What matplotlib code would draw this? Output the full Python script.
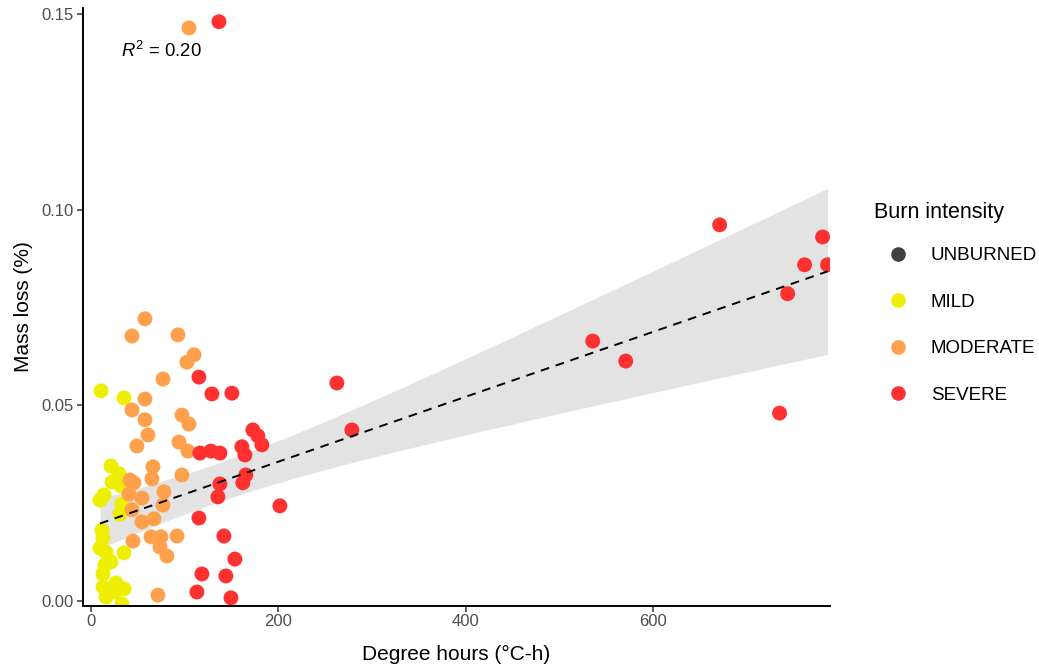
import numpy as np
import matplotlib
matplotlib.use("Agg")
import matplotlib.pyplot as plt
from matplotlib.lines import Line2D

plt.rcParams['font.family'] = ['Liberation Sans', 'DejaVu Sans']
plt.rcParams['mathtext.fontset'] = 'custom'
plt.rcParams['mathtext.rm'] = 'Liberation Sans'
plt.rcParams['mathtext.it'] = 'Liberation Sans:italic'

# ---- data (degree hours, mass loss) ----
mild_x = [10.7, 35.2, 21.3, 29.9, 22.4, 32.0, 13.9, 9.6, 33.0, 30.9, 11.7, 12.8,
          9.6, 16.0, 35.2, 14.9, 21.3, 12.8, 12.8, 26.7, 35.2, 16.0, 33.0, 25.6]
mild_y = [0.0537, 0.0519, 0.0345, 0.0325, 0.0304, 0.0294, 0.0271, 0.0258, 0.0248,
          0.0222, 0.0181, 0.0161, 0.0135, 0.0125, 0.0123, 0.0092, 0.0100, 0.0069,
          0.0036, 0.0046, 0.0031, 0.0010, -0.0008, 0.0023]

moderate_x = [104.5, 57.6, 43.7, 92.8, 109.9, 102.3, 76.8, 57.6, 43.7, 57.6, 60.8,
              49.0, 97.0, 104.5, 93.8, 103.4, 66.1, 65.0, 97.0, 41.6, 45.8, 77.8,
              40.5, 54.4, 76.8, 43.7, 54.4, 67.2, 44.8, 64.0, 74.6, 91.7, 73.6,
              81.0, 71.4]
moderate_y = [0.1464, 0.0721, 0.0677, 0.0680, 0.0629, 0.0610, 0.0567, 0.0516, 0.0488,
              0.0463, 0.0424, 0.0396, 0.0475, 0.0452, 0.0406, 0.0383, 0.0343, 0.0312,
              0.0322, 0.0309, 0.0302, 0.0279, 0.0273, 0.0263, 0.0245, 0.0233, 0.0202,
              0.0210, 0.0153, 0.0164, 0.0164, 0.0166, 0.0138, 0.0115, 0.0015]

severe_x = [136.5, 115.1, 129.0, 150.3, 116.2, 127.9, 137.5, 161.0, 164.2, 172.7,
            178.0, 182.3, 165.2, 162.0, 137.5, 135.4, 115.1, 201.5, 141.8, 153.5,
            118.3, 143.9, 113.0, 149.3, 262.3, 278.3, 535.2, 570.4, 670.6, 734.5,
            743.1, 761.2, 780.4, 785.7]
severe_y = [0.1480, 0.0572, 0.0529, 0.0531, 0.0378, 0.0383, 0.0378, 0.0394, 0.0373,
            0.0437, 0.0422, 0.0399, 0.0322, 0.0302, 0.0299, 0.0266, 0.0212, 0.0243,
            0.0166, 0.0107, 0.0069, 0.0064, 0.0023, 0.0008, 0.0557, 0.0437, 0.0664,
            0.0613, 0.0961, 0.0480, 0.0785, 0.0859, 0.0930, 0.0859]

categories = ["UNBURNED", "MILD", "MODERATE", "SEVERE"]
colors = {"UNBURNED": "#404040", "MILD": "#EEEE00", "MODERATE": "#FFA04C", "SEVERE": "#FF3030"}
legend_title = "Burn intensity"
r2_label = "0.20"

# linear fit (line and 95% band half-widths at the ends)
fit_intercept = 0.0190
fit_slope = 0.000083
band_half_left = 0.0064
band_half_right = 0.0212

x_ticks = [0, 200, 400, 600]
y_ticks = [0.00, 0.05, 0.10, 0.15]

# ---- figure ----
fig = plt.figure(figsize=(10.39, 6.65), dpi=100)
ax = fig.add_axes([83 / 1039, 59 / 665, 747 / 1039, 598 / 665])

all_x = np.array(mild_x + moderate_x + severe_x)
x0, x1 = all_x.min(), all_x.max()
xc = all_x.mean()
xs = np.linspace(x0, x1, 200)
ys = fit_intercept + fit_slope * xs
# hyperbolic CI shape through the two read half-widths
b = (band_half_right ** 2 - band_half_left ** 2) / ((x1 - xc) ** 2 - (x0 - xc) ** 2)
a = band_half_left ** 2 - b * (x0 - xc) ** 2
half = np.sqrt(a + b * (xs - xc) ** 2)
ax.fill_between(xs, ys - half, ys + half, color="#E3E3E3", lw=0, zorder=1)

for cat, xv, yv in [("MILD", mild_x, mild_y), ("MODERATE", moderate_x, moderate_y),
                    ("SEVERE", severe_x, severe_y)]:
    ax.scatter(xv, yv, s=115, color=colors[cat], edgecolors="none", zorder=2)

ax.plot(xs, ys, color="black", lw=1.4, ls=(0, (4.5, 3.5)), zorder=3)

ax.set_xlim(-8.5, 788.3)
ax.set_ylim(-0.00128, 0.1515)
ax.set_xticks(x_ticks)
ax.set_xticklabels([str(v) for v in x_ticks])
ax.set_yticks(y_ticks)
ax.set_yticklabels([f"{v:.2f}" for v in y_ticks])
for sp in ["top", "right"]:
    ax.spines[sp].set_visible(False)
for sp in ["left", "bottom"]:
    ax.spines[sp].set_linewidth(1.4)
    ax.spines[sp].set_color("black")
ax.tick_params(axis="both", length=4, width=1.1, color="#333333",
               labelcolor="#4D4D4D", labelsize=12)
ax.tick_params(axis="x", pad=2)
ax.tick_params(axis="y", pad=3)
ax.set_xlabel("Degree hours (°C-h)", fontsize=15, color="black", labelpad=11)
ax.set_ylabel("Mass loss (%)", fontsize=15, color="black", labelpad=6)

ax.text(0.051, 0.928, r"$\mathit{R}^2$ = " + r2_label, transform=ax.transAxes,
        fontsize=13.3, ha="left", va="center")

fig.text(874 / 1039, 1 - 212 / 665, legend_title, fontsize=15.5,
         ha="left", va="center")
handles = [Line2D([], [], marker="o", ls="none", markersize=10.5,
                  markerfacecolor=colors[c], markeredgecolor="none") for c in categories]
leg = fig.legend(handles, categories, loc="center left",
                 bbox_to_anchor=(868 / 1039, 1 - 325.5 / 665), frameon=False,
                 fontsize=13.5, labelspacing=1.57,
                 handlelength=2.4, handletextpad=0.55, borderaxespad=0)

fig.savefig("out.png", dpi=100)
